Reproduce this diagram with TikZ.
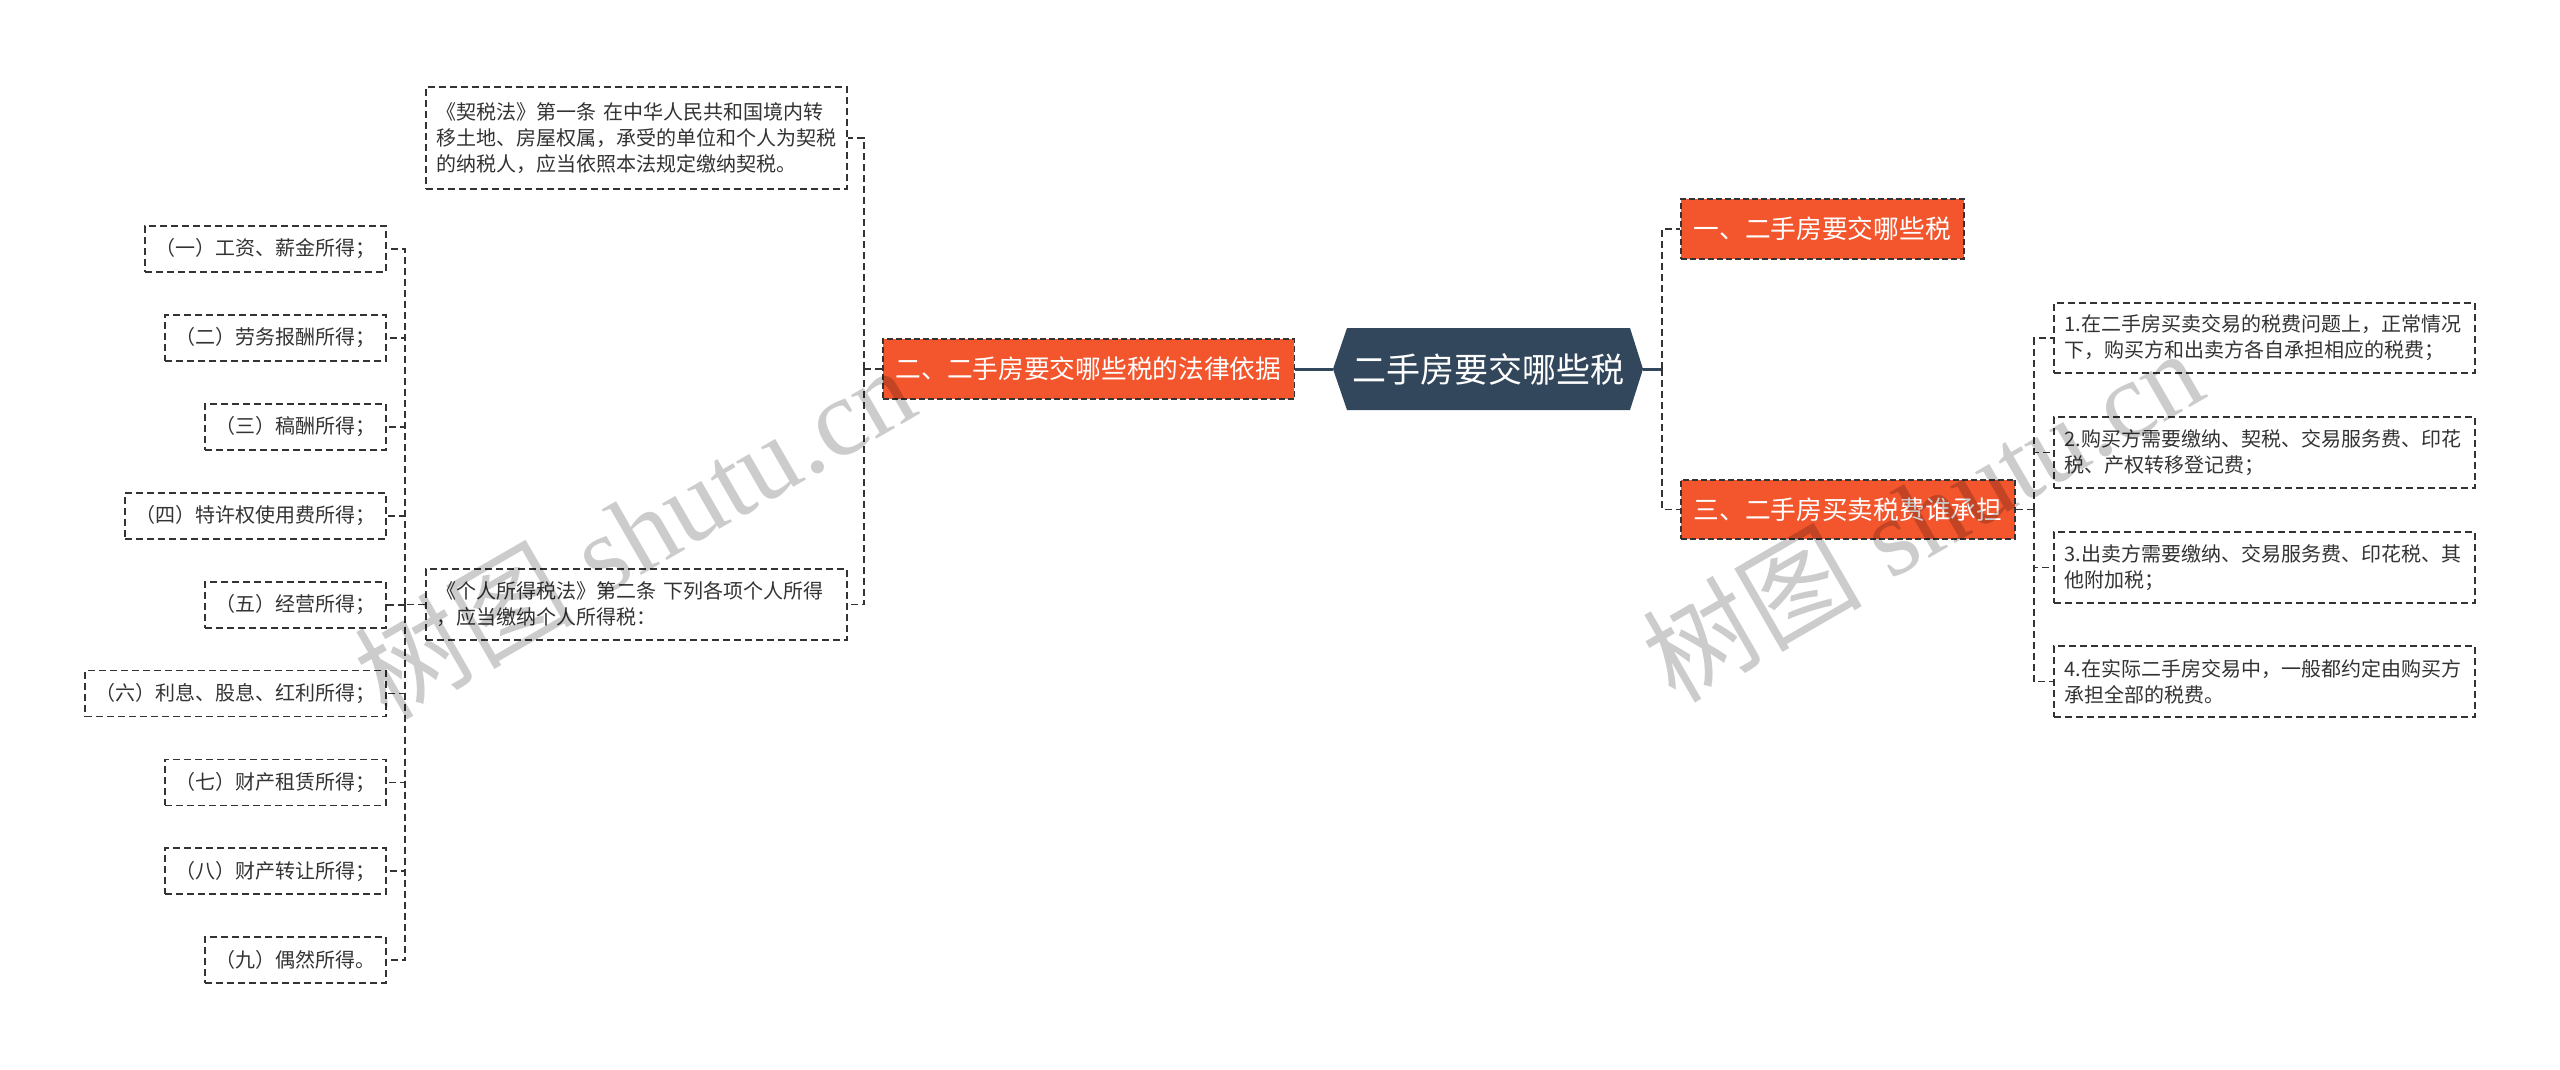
\documentclass[tikz,border=0pt]{standalone}
\usepackage{fontspec}
\setmainfont{Noto Sans CJK SC}
\newfontfamily\wmlatin{Liberation Serif}
\usetikzlibrary{calc}
\definecolor{rootc}{HTML}{32475B}
\definecolor{orng}{HTML}{F3552D}
\definecolor{linec}{HTML}{333333}
\definecolor{txtc}{HTML}{333333}
\begin{document}
\begin{tikzpicture}[x=1pt,y=-1pt,
  conn/.style={draw=linec, line width=1.8pt, dash pattern=on 7pt off 4pt},
  rootline/.style={draw=rootc, line width=3pt},
  leafbox/.style={draw=linec, line width=1.8pt, dash pattern=on 7pt off 4pt, fill=white, text=txtc,
    font=\fontsize{20pt}{26pt}\selectfont, inner xsep=10.5pt, inner ysep=0pt, minimum height=46pt},
  parabox/.style={leafbox, text width=400pt, align=left},
  orangebox/.style={draw=linec, line width=1.5pt, dash pattern=on 6pt off 3pt, fill=orng, text=white,
    font=\fontsize{25.7pt}{30pt}\selectfont, inner xsep=13pt, inner ysep=0pt, minimum height=60pt},
  wmark/.style={text=black, text opacity=0.2, font=\fontsize{110pt}{110pt}\selectfont, rotate=30, inner sep=0pt},
  ]
\useasboundingbox (0,0) rectangle (2560,1069);

% root hexagon
\fill[rootc] (1333,369) -- (1347,328) -- (1630,328) -- (1643,369) -- (1630,410) -- (1347,410) -- cycle;
\node[text=white, font=\fontsize{34pt}{40pt}\selectfont, minimum width=310pt, minimum height=82pt, inner sep=0pt] (root) at (1488,369) {二手房要交哪些税};

% level 1
\node[orangebox, anchor=east] (law) at (1295,369) {二、二手房要交哪些税的法律依据};
\node[orangebox, anchor=west] (n1) at (1680,229) {一、二手房要交哪些税};
\node[orangebox, anchor=west, minimum height=59pt] (n3) at (1680,509.5) {三、二手房买卖税费谁承担};

% left level 2
\node[parabox, anchor=north west, minimum height=102pt] (b1) at (425,86) {《契税法》第一条 在中华人民共和国境内转\\移土地、房屋权属，承受的单位和个人为契税\\的纳税人，应当依照本法规定缴纳契税。};
\node[parabox, anchor=west, minimum height=71pt] (b2) at (425,604.5) {《个人所得税法》第二条 下列各项个人所得\\，应当缴纳个人所得税：};

% items
\node[leafbox, anchor=east] (i1) at (387,249) {（一）工资、薪金所得；};
\node[leafbox, anchor=east] (i2) at (387,337.9) {（二）劳务报酬所得；};
\node[leafbox, anchor=east] (i3) at (387,426.8) {（三）稿酬所得；};
\node[leafbox, anchor=east] (i4) at (387,515.7) {（四）特许权使用费所得；};
\node[leafbox, anchor=east] (i5) at (387,604.6) {（五）经营所得；};
\node[leafbox, anchor=east] (i6) at (387,693.5) {（六）利息、股息、红利所得；};
\node[leafbox, anchor=east] (i7) at (387,782.4) {（七）财产租赁所得；};
\node[leafbox, anchor=east] (i8) at (387,871.3) {（八）财产转让所得；};
\node[leafbox, anchor=east] (i9) at (387,960.2) {（九）偶然所得。};

% right level 2
\node[parabox, anchor=west, minimum height=70pt] (r1) at (2053,338) {1.在二手房买卖交易的税费问题上，正常情况\\下，购买方和出卖方各自承担相应的税费；};
\node[parabox, anchor=west, minimum height=71pt] (r2) at (2053,452.5) {2.购买方需要缴纳、契税、交易服务费、印花\\税、产权转移登记费；};
\node[parabox, anchor=west, minimum height=71pt] (r3) at (2053,567.5) {3.出卖方需要缴纳、交易服务费、印花税、其\\他附加税；};
\node[parabox, anchor=west, minimum height=71pt] (r4) at (2053,681.5) {4.在实际二手房交易中，一般都约定由购买方\\承担全部的税费。};

% trunk coordinates
\coordinate (rt) at (1662,369);
\coordinate (lt) at (864,369);
\coordinate (t2) at (405,604.5);
\coordinate (t3) at (2034,509.5);

% connectors
\draw[rootline] (root.west) -- (law.east);
\draw[rootline] (root.east) -- (rt);
\draw[conn] (rt) |- (n1.west);
\draw[conn] (rt) |- (n3.west);

\draw[conn] (law.west) -- (lt);
\draw[conn] (lt) |- (b1.east);
\draw[conn] (lt) |- (b2.east);

\draw[conn] (b2.west) -- (t2);
\foreach \i in {i1,i2,i3,i4,i5,i6,i7,i8,i9} {\draw[conn] (t2) |- (\i.east);}

\draw[conn] (n3.east) -- (t3);
\foreach \r in {r1,r2,r3,r4} {\draw[conn] (t3) |- (\r.west);}

% watermarks
\node[wmark] (wm1) at (634,531) {树图\hspace{0.25em}{\wmlatin shutu.cn}};
\node[wmark] (wm2) at (1922,514) {树图\hspace{0.25em}{\wmlatin shutu.cn}};
\end{tikzpicture}
\end{document}
